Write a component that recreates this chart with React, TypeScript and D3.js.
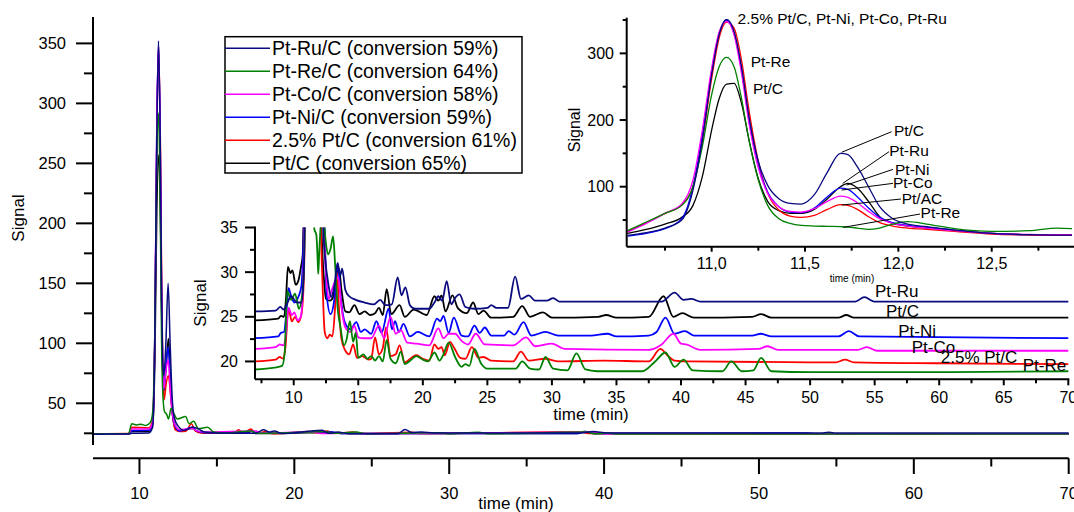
import React from 'react';
import * as d3 from 'd3';

type P = [number, number];

const FONT = "'Liberation Sans', Arial, Helvetica, sans-serif";

// ---------- series meta ----------
const legendLabels = [
  'Pt-Ru/C (conversion 59%)',
  'Pt-Re/C (conversion 64%)',
  'Pt-Co/C (conversion 58%)',
  'Pt-Ni/C (conversion 59%)',
  '2.5% Pt/C (conversion 61%)',
  'Pt/C (conversion 65%)',
];
const seriesColors = ['#0a0a80', '#008000', '#ff00ff', '#0000ff', '#ff0000', '#000000'];

// ---------- main chart (full chromatogram) ----------
const mainPtRu: P[] = [[7,24.3],[9.3,24.4],[9.5,25.0],[10.6,25.2],[10.85,30],[11.0,110],[11.12,270],[11.23,352],[11.34,270],[11.43,140],[11.5,85],[11.57,73],[11.7,98],[11.85,150],[11.98,100],[12.1,58],[12.25,38],[12.5,31],[12.9,27.5],[13.4,30],[13.75,29],[14.2,26],[15,25.3],[17.5,25.0],[18.0,28],[18.4,26],[18.7,27],[19.2,24.8],[21.8,27.5],[22.2,25],[22.8,26],[23.5,24.7],[26.7,24.7],[27.15,28.2],[27.6,25.6],[28.2,26],[29,25.2],[38.5,25.2],[39.3,26.5],[40.2,25.3],[54,25.2],[54.5,25.8],[55,25.2],[70,25.2]];
const mainPtRe: P[] = [[7,24.5],[9.3,24.8],[9.5,33],[9.8,32],[10.1,32.5],[10.4,31.5],[10.7,34],[10.85,42],[11.0,115],[11.12,255],[11.23,292],[11.34,215],[11.43,100],[11.52,55],[11.62,43],[11.75,41],[11.87,37],[12.05,46],[12.2,42],[12.45,37],[12.98,39],[13.2,33],[13.5,35],[13.8,29],[14.4,30],[14.8,26],[15.5,25.2],[17.2,27],[17.6,25],[20.9,26],[22,26.5],[22.5,25],[24,26],[24.6,24.7],[29.5,25.5],[30,24.6],[31.9,25.8],[32.5,24.6],[38.8,26],[39.5,24.6],[40.2,25.2],[40.8,24.5],[70,24.4]];
const mainPtCo: P[] = [[7,24.4],[9.3,24.6],[9.5,28.5],[10.6,28.5],[10.85,34],[11.0,118],[11.12,282],[11.23,348],[11.34,262],[11.43,130],[11.5,78],[11.57,62],[11.7,76],[11.85,86],[11.98,64],[12.1,44],[12.3,32],[12.6,28],[13.4,29],[13.7,27],[14.2,26],[17.5,27],[17.9,25.2],[21.2,26],[21.7,24.8],[24.1,25.5],[24.6,24.6],[39.4,26],[40,24.6],[70,24.4]];
const mainPtNi: P[] = [[7,24.4],[9.3,24.6],[9.5,27.2],[10.6,27.5],[10.85,33],[11.0,115],[11.12,280],[11.23,350],[11.34,268],[11.43,135],[11.5,80],[11.57,61],[11.7,80],[11.85,97],[11.98,70],[12.1,45],[12.3,31],[12.6,27],[13.4,30],[13.7,27],[14.2,25.5],[16.4,26],[16.8,25],[17.3,27],[17.6,25],[21.5,26],[22.4,26],[23,24.8],[38.3,24.8],[38.8,26.5],[39.4,24.8],[53,25.3],[53.6,24.6],[70,24.5]];
const mainPt25: P[] = [[7,24.6],[9.3,24.8],[9.5,30],[10.6,29.5],[10.85,36],[11.0,112],[11.12,272],[11.24,347],[11.36,258],[11.45,130],[11.52,72],[11.6,53],[11.72,66],[11.87,73],[12.0,58],[12.12,42],[12.3,28],[12.6,26.5],[13.0,26.8],[13.35,33],[13.6,27],[14.0,25.2],[16.1,25],[16.4,28],[16.7,25.2],[17.2,28.5],[17.5,25],[18.2,26.5],[18.6,24.6],[20.9,26.5],[21.5,25.2],[22.1,27],[22.6,25],[23.8,26],[24.3,24.8],[27.6,25.8],[28.2,24.8],[38.4,26.2],[39.1,24.8],[70,24.5]];
const mainPtC: P[] = [[7,24.5],[9.3,24.6],[9.5,26.5],[10.6,26.5],[10.85,32],[11.0,90],[11.12,210],[11.25,257],[11.37,190],[11.47,90],[11.58,60],[11.72,80],[11.87,104],[12.0,70],[12.12,42],[12.3,30],[12.6,27],[13.4,29],[13.7,27],[14.2,25],[17.0,25],[17.2,27],[17.5,24.8],[21,25.5],[22.3,26],[23,24.8],[38.3,24.8],[38.7,26.5],[39.3,24.8],[70,24.5]];

// ---------- lower inset (offset traces, 7-70 min) ----------
const detPtRu: P[] = [[7,25.6],[8.6,25.7],[8.97,26.1],[9.2,25.8],[9.4,26.2],[9.8,27.3],[10.25,26.6],[10.6,26.6],[10.78,30],[10.92,40],[12.1,40],[12.35,33],[12.7,28.5],[12.9,27.2],[13.15,28.5],[13.4,31],[13.6,29.6],[13.75,30.4],[14.0,28],[14.3,27.3],[14.8,26.9],[15.5,26.6],[16.2,26.4],[16.7,26.9],[17.1,26.3],[17.6,26.4],[18.05,29.4],[18.35,27.4],[18.65,28.3],[19.0,26.3],[19.4,25.9],[20.5,25.9],[20.9,26.6],[21.2,27.3],[21.5,26.8],[21.85,29.0],[22.2,26.4],[22.5,27.1],[22.85,27.5],[23.3,26.1],[24,25.9],[25,26.0],[25.3,26.3],[25.7,26.0],[26.6,26.0],[27.15,29.5],[27.6,27.0],[28.2,27.4],[28.7,26.8],[29.6,26.8],[30.1,27.1],[30.6,26.7],[38.5,26.7],[39.5,27.7],[40.2,26.9],[40.8,27.0],[41.5,26.7],[53.5,26.7],[54.2,27.2],[55,26.7],[70,26.7]];
const detPtRe: P[] = [[7,19.1],[8.5,19.3],[9.1,19.5],[9.3,21],[9.5,27.9],[9.8,26.9],[10.1,27.6],[10.4,25.9],[10.65,27.4],[10.8,31],[10.9,38],[11.45,38],[11.6,34.8],[11.75,34.2],[11.85,31.5],[11.9,29.8],[11.97,32],[12.1,35.5],[12.25,37],[12.45,33.8],[12.65,32],[12.85,32.6],[13.05,34],[13.2,31],[13.4,26],[13.6,24],[13.9,21.8],[14.1,22.5],[14.35,24.5],[14.6,22.2],[14.8,23.2],[15.0,20.4],[15.4,20.8],[15.7,20.3],[16.0,20.6],[16.3,20.1],[16.6,20.6],[16.9,20.0],[17.2,22.4],[17.5,20.3],[17.9,19.8],[18.3,21.1],[18.6,19.7],[19.1,20.2],[19.5,20.6],[20.0,20.2],[20.4,20.0],[20.9,21.0],[21.3,20.1],[21.6,20.8],[22.0,22.1],[22.5,20.5],[23.0,19.4],[23.3,19.7],[23.6,19.5],[24.0,21.4],[24.5,19.8],[25.0,19.2],[27.2,19.2],[27.7,20.0],[28.3,19.2],[29.0,19.1],[29.5,20.5],[30.1,19.2],[31.2,19.0],[31.9,20.9],[32.6,19.1],[33.5,18.9],[37,18.9],[38.0,20.0],[38.8,21.0],[39.5,19.4],[40.2,20.2],[40.9,19.0],[43.2,18.9],[43.9,20.0],[44.7,18.9],[45.6,19.0],[46.2,20.4],[47.0,18.9],[50,18.8],[60,18.8],[70,18.9]];
const detPtCo: P[] = [[7,21.4],[8.6,21.6],[8.9,21.9],[9.2,21.8],[9.35,22.5],[9.6,26.0],[9.85,25.2],[10.05,25.5],[10.3,24.6],[10.55,25.0],[10.75,30],[10.88,38],[12.2,38],[12.5,30],[12.7,27],[12.95,28],[13.2,29],[13.45,29.4],[13.7,26],[14.0,23.8],[14.4,23.3],[14.7,24.0],[15.0,22.7],[15.4,22.6],[16.0,22.6],[16.6,24.0],[17.0,22.6],[17.5,25.0],[17.9,23.1],[18.3,23.5],[18.8,22.1],[19.5,22.0],[20.5,21.8],[21.2,23.7],[21.6,22.6],[22.0,23.1],[22.5,23.1],[23.0,22.3],[23.5,21.9],[24.1,23.1],[24.8,21.9],[27.0,21.8],[28.0,22.7],[28.7,21.7],[30.0,22.0],[31.0,21.4],[37.5,21.3],[38.5,21.9],[39.4,23.1],[40.0,22.0],[40.4,21.9],[41.5,21.3],[46.0,21.4],[46.7,21.7],[47.5,21.3],[53.7,21.3],[54.4,21.6],[55.2,21.2],[70,21.2]];
const detPtNi: P[] = [[7,22.6],[8.8,22.8],[9.0,23.2],[9.25,23.3],[9.4,25],[9.6,28.2],[9.8,27.3],[10.05,26.6],[10.35,27.2],[10.6,28.5],[10.75,33],[10.85,38],[12.3,38],[12.55,27.5],[12.85,25.3],[13.15,27],[13.4,31],[13.65,27],[13.95,24.4],[14.4,23.6],[14.85,24.4],[15.2,23.3],[15.5,23.6],[16.0,23.1],[16.4,24.5],[16.8,23.2],[17.35,25.9],[17.6,23.6],[17.85,24.5],[18.15,23.3],[18.5,24.2],[19.0,22.8],[19.6,23.3],[20.5,22.8],[21.1,24.8],[21.35,24.5],[21.6,25.1],[22.0,23.2],[22.4,24.9],[23.0,22.9],[23.5,22.8],[24.0,24.0],[24.4,23.2],[24.8,23.8],[25.3,22.9],[26.3,22.9],[26.65,23.4],[27.1,23.0],[27.8,24.4],[28.4,22.9],[29.5,23.3],[30.5,22.9],[33,22.9],[34.3,23.1],[35,22.8],[37.5,22.9],[38.1,23.3],[38.8,24.9],[39.5,23.1],[40.3,23.4],[41,22.9],[45.5,22.9],[46.2,23.1],[47,22.8],[52.2,22.8],[53.0,23.4],[53.8,22.8],[70,22.6]];
const detPt25: P[] = [[7,20.0],[8.6,20.2],[8.9,20.5],[9.2,20.3],[9.35,21.5],[9.6,25.9],[9.85,24.5],[10.1,25.0],[10.35,24.4],[10.6,25.3],[10.8,30],[10.9,38],[12.0,38],[12.2,30],[12.4,23.3],[12.6,22.6],[12.8,23.0],[13.0,22.8],[13.2,26],[13.35,30],[13.5,26],[13.7,22.5],[14.0,21.2],[14.3,20.8],[14.6,21.9],[14.9,20.4],[15.3,20.6],[15.8,20.2],[16.0,20.3],[16.3,22.7],[16.6,20.8],[16.9,21.5],[17.15,23.8],[17.5,20.6],[17.9,20.8],[18.2,21.8],[18.6,19.9],[19.2,20.5],[19.5,20.7],[20.0,20.3],[20.5,20.1],[20.9,21.9],[21.2,21.4],[21.45,21.6],[21.7,20.7],[22.1,22.2],[22.4,21.6],[22.9,20.4],[23.3,20.3],[23.8,21.6],[24.3,20.4],[24.7,20.5],[25.3,20.1],[27.0,20.0],[27.6,21.1],[28.2,20.1],[29.5,20.3],[30.5,20.0],[34,20.1],[37.5,20.0],[38.4,21.4],[39.0,20.6],[39.5,20.1],[40.5,20.0],[52,19.9],[52.7,20.2],[53.4,19.9],[60,19.8],[70,19.7]];
const detPtC: P[] = [[7,24.6],[8.8,24.8],[9.0,25.1],[9.25,25.0],[9.4,27],[9.55,30.6],[9.75,29.9],[9.9,30.2],[10.15,28.6],[10.35,29.0],[10.55,30.5],[10.7,32],[10.8,38],[12.0,38],[12.3,30],[12.5,27.0],[12.8,26.8],[13.05,27.2],[13.3,29.5],[13.5,30.4],[13.7,28],[14.0,25.6],[14.3,25.5],[14.7,26.3],[15.1,25.3],[15.5,25.6],[15.9,25.2],[16.3,25.4],[16.6,26.0],[16.9,25.2],[17.2,28.1],[17.55,25.3],[18.2,26.3],[18.6,25.0],[19.3,25.8],[20.3,25.2],[20.9,27.3],[21.2,26.8],[21.45,27.4],[21.75,25.6],[22.3,27.4],[22.7,26.0],[23.4,25.4],[23.9,26.6],[24.3,25.3],[24.7,25.7],[25.3,24.9],[27.0,25.0],[27.7,26.2],[28.3,25.0],[29.3,25.5],[30,24.9],[33.6,25.0],[34.2,25.2],[35,24.9],[37.5,25.0],[38.65,27.3],[39.4,25.0],[40.1,25.4],[41,24.9],[45.5,25.0],[46.2,25.3],[47.0,24.9],[52.2,24.9],[52.8,25.2],[53.4,24.9],[70,24.9]];

// ---------- upper inset (zoom on 10.5-12.9 min) ----------
const zoomTimes = [10.55,10.65,10.75,10.84,10.9,10.95,11.0,11.04,11.08,11.12,11.16,11.2,11.25,11.3,11.36,11.42,11.48,11.55,11.62,11.69,11.73,11.78,11.84,11.9,11.97,12.05,12.15,12.3,12.5,12.7,12.85,12.93];
const zoomPtRu = [27,31,38,50,95,170,268,328,351,333,280,205,138,102,82,75,74,88,122,150,148,130,100,70,52,44,40,35,30,28,27.5,27.5];
const zoomPtRe = [34,47,60,72,100,160,238,280,294,280,232,170,110,72,52,45,42,41,40.5,40,39.5,38,36,38,44,47.5,44,37,33,34,38,37];
const zoomPtCo = [32,45,60,74,110,185,278,332,348,328,270,195,128,90,70,63,62,67,78,86,84,76,63,52,45,41,38,34,30,28.5,28,28];
const zoomPtNi = [26,30,37,52,100,178,272,330,350,330,275,200,132,92,70,62,61,68,85,98,96,85,68,54,46,42,39,35,30,28,28,28];
const zoomPt25 = [33,46,60,73,100,168,262,323,347,338,290,215,138,90,65,56,54,57,66,73,72,66,55,46,41,38,36,33,29,27.5,27,27];
const zoomPtC = [30,36,44,54,72,115,185,232,254,255,225,170,112,78,64,60,60,66,82,100,105,98,78,55,45,41,38,34,30,28,27.5,27.5];

// ---------- tick labels / annotations ----------
const mainXTicks = [10, 20, 30, 40, 50, 60, 70];
const mainYTicks = [50, 100, 150, 200, 250, 300, 350];
const detXTicks = [10, 15, 20, 25, 30, 35, 40, 45, 50, 55, 60, 65, 70];
const detYTicks = [20, 25, 30, 35];
const zoomXTicks = [11.0, 11.5, 12.0, 12.5];
const zoomXTickLabels = ['11,0', '11,5', '12,0', '12,5'];
const zoomYTicks = [100, 200, 300];

// labels at the right of the lower inset (data coords of that inset)
const detLabels: { text: string; t: number; v: number }[] = [
  { text: 'Pt-Ru', t: 55.03, v: 27.92 },
  { text: 'Pt/C', t: 55.88, v: 25.68 },
  { text: 'Pt-Ni', t: 56.83, v: 23.44 },
  { text: 'Pt-Co', t: 57.87, v: 21.65 },
  { text: '2.5% Pt/C', t: 60.12, v: 20.46 },
  { text: 'Pt-Re', t: 66.47, v: 19.6 },
];
// labels in the upper inset
const zoomTopLabels: { text: string; t: number; v: number }[] = [
  { text: '2.5% Pt/C, Pt-Ni, Pt-Co, Pt-Ru', t: 11.139, v: 352.6 },
  { text: 'Pt-Re', t: 11.209, v: 288.5 },
  { text: 'Pt/C', t: 11.221, v: 247.6 },
];
const zoomPointerLabels: { text: string; t: number; v: number; t0: number; v0: number; t1: number; v1: number }[] = [
  { text: 'Pt/C', t: 11.976, v: 184, t0: 11.964, v0: 182.5, t1: 11.696, v1: 151.6 },
  { text: 'Pt-Ru', t: 11.951, v: 154, t0: 11.95, v0: 152.5, t1: 11.702, v1: 105 },
  { text: 'Pt-Ni', t: 11.982, v: 126, t0: 11.971, v0: 126, t1: 11.723, v1: 102.5 },
  { text: 'Pt-Co', t: 11.971, v: 106, t0: 11.971, v0: 105, t1: 11.696, v1: 95 },
  { text: 'Pt/AC', t: 12.018, v: 82.6, t0: 12.014, v0: 81.5, t1: 11.696, v1: 72.5 },
  { text: 'Pt-Re', t: 12.119, v: 61, t0: 12.116, v0: 59, t1: 11.705, v1: 39 },
];

export default function App() {
  const W = 1074, H = 512;

  // main scales
  const xM = d3.scaleLinear().domain([7, 70]).range([93, 1068.7]);
  const yM = d3.scaleLinear().domain([0, 372]).range([463.3, 17]);
  const yMinMain = 15.25;
  const lineM = d3.line<P>().x(d => xM(d[0])).y(d => yM(d[1])).curve(d3.curveMonotoneX);

  // lower inset scales
  const xD = d3.scaleLinear().domain([7, 70]).range([255, 1068.3]);
  const yD = d3.scaleLinear().domain([18, 35]).range([379.3, 227.5]);
  const lineD = d3.line<P>().x(d => xD(d[0])).y(d => yD(d[1])).curve(d3.curveMonotoneX);

  // upper inset scales
  const xZ = d3.scaleLinear().domain([10.545, 12.93]).range([626.7, 1072]);
  const yZ = d3.scaleLinear().domain([10, 352]).range([246.7, 18.7]);
  const lineZ = d3.line<P>().x(d => xZ(d[0])).y(d => yZ(d[1])).curve(d3.curveMonotoneX);

  const mainSeries = [mainPtRu, mainPtRe, mainPtCo, mainPtNi, mainPt25, mainPtC];
  const detSeries = [detPtRu, detPtRe, detPtCo, detPtNi, detPt25, detPtC];
  const zoomSeries = [zoomPtRu, zoomPtRe, zoomPtCo, zoomPtNi, zoomPt25, zoomPtC].map(
    vals => d3.zip(zoomTimes, vals) as P[]
  );
  const drawOrder = [5, 4, 3, 2, 1, 0];

  const mainYMinor = d3.range(25, 372, 50);
  const mainXMinor = d3.range(15, 70, 10);
  const detYMinor = [22.5, 27.5, 32.5];
  const detXMinor = d3.range(7.5, 70, 5);
  const zoomYMinor = [50, 150, 250, 350];
  const zoomXMinor = [10.75, 11.25, 11.75, 12.25, 12.75];

  const axisStroke = { stroke: '#000', strokeWidth: 2 };

  return (
    <svg width={W} height={H} style={{ position: 'absolute', left: 0, top: 0, background: '#fff' }}
      fontFamily={FONT}>
      <defs>
        <clipPath id="clipMain"><rect x={xM(7)} y={yM(372)} width={xM(70) - xM(7) + 2} height={yM(yMinMain) - yM(372)} /></clipPath>
        <clipPath id="clipDet"><rect x={xD(7)} y={yD(35)} width={xD(70) - xD(7) + 1} height={yD(18) - yD(35)} /></clipPath>
        <clipPath id="clipZoom"><rect x={xZ(10.545)} y={yZ(352)} width={xZ(12.93) - xZ(10.545) + 2} height={yZ(10) - yZ(352)} /></clipPath>
      </defs>
      <rect x={0} y={0} width={W} height={H} fill="#fff" />

      {/* ===== MAIN CHART ===== */}
      <g clipPath="url(#clipMain)">
        {drawOrder.map(i => (
          <path key={i} d={lineM(mainSeries[i]) || ''} fill="none" stroke={seriesColors[i]} strokeWidth={1.5} strokeLinejoin="round" />
        ))}
      </g>
      {/* y axis */}
      <line x1={xM(7)} x2={xM(7)} y1={yM(372)} y2={yM(yMinMain)} {...axisStroke} />
      {mainYTicks.map(v => (
        <g key={'my' + v}>
          <line x1={xM(7) - 17} x2={xM(7)} y1={yM(v)} y2={yM(v)} {...axisStroke} />
          <text x={66} y={yM(v)} dy="0.35em" textAnchor="end" fontSize={16.5}>{v}</text>
        </g>
      ))}
      {mainYMinor.map(v => (
        <line key={'mym' + v} x1={xM(7) - 9} x2={xM(7)} y1={yM(v)} y2={yM(v)} {...axisStroke} />
      ))}
      <text transform={`translate(24,218) rotate(-90)`} textAnchor="middle" fontSize={17}>Signal</text>
      {/* x axis (separate line) */}
      <line x1={xM(7)} x2={xM(70)} y1={458.3} y2={458.3} {...axisStroke} />
      {mainXTicks.map(t => (
        <g key={'mx' + t}>
          <line x1={xM(t)} x2={xM(t)} y1={458.3} y2={474} {...axisStroke} />
          <text x={xM(t)} y={498.5} textAnchor="middle" fontSize={16.5}>{t}</text>
        </g>
      ))}
      {mainXMinor.map(t => (
        <line key={'mxm' + t} x1={xM(t)} x2={xM(t)} y1={458.3} y2={466.5} {...axisStroke} />
      ))}
      <text x={516} y={509} textAnchor="middle" fontSize={17}>time (min)</text>

      {/* legend */}
      <rect x={225} y={36.7} width={297} height={136.3} fill="#fff" stroke="#000" strokeWidth={1.5} />
      {legendLabels.map((lab, i) => {
        const cy = 48.3 + i * 23;
        return (
          <g key={'lg' + i}>
            <line x1={225} x2={270} y1={cy} y2={cy} stroke={seriesColors[i]} strokeWidth={1.5} />
            <text x={272} y={cy} dy="0.36em" fontSize={19.5}>{lab}</text>
          </g>
        );
      })}

      {/* ===== LOWER INSET ===== */}
      <g clipPath="url(#clipDet)">
        {drawOrder.map(i => (
          <path key={i} d={lineD(detSeries[i]) || ''} fill="none" stroke={seriesColors[i]} strokeWidth={1.8} strokeLinejoin="round" />
        ))}
      </g>
      <line x1={xD(7)} x2={xD(7)} y1={yD(35) - 1} y2={yD(18)} {...axisStroke} />
      <line x1={xD(7)} x2={xD(70) + 1} y1={yD(18)} y2={yD(18)} {...axisStroke} />
      {detYTicks.map(v => (
        <g key={'dy' + v}>
          <line x1={xD(7) - 10} x2={xD(7)} y1={yD(v)} y2={yD(v)} {...axisStroke} />
          <text x={238} y={yD(v)} dy="0.35em" textAnchor="end" fontSize={16}>{v}</text>
        </g>
      ))}
      {detYMinor.map(v => (
        <line key={'dym' + v} x1={xD(7) - 5} x2={xD(7)} y1={yD(v)} y2={yD(v)} {...axisStroke} />
      ))}
      {detXTicks.map(t => (
        <g key={'dx' + t}>
          <line x1={xD(t)} x2={xD(t)} y1={yD(18)} y2={yD(18) + 6} {...axisStroke} />
          <text x={xD(t)} y={402.5} textAnchor="middle" fontSize={16}>{t}</text>
        </g>
      ))}
      {detXMinor.map(t => (
        <line key={'dxm' + t} x1={xD(t)} x2={xD(t)} y1={yD(18)} y2={yD(18) + 4} {...axisStroke} />
      ))}
      <text transform={`translate(206,303) rotate(-90)`} textAnchor="middle" fontSize={17}>Signal</text>
      <text x={591} y={420} textAnchor="middle" fontSize={17}>time (min)</text>
      {detLabels.map(l => (
        <text key={'dl' + l.text} x={xD(l.t)} y={yD(l.v)} dy="0.36em" fontSize={17}>{l.text}</text>
      ))}

      {/* ===== UPPER INSET ===== */}
      <g clipPath="url(#clipZoom)">
        {drawOrder.map(i => (
          <path key={i} d={lineZ(zoomSeries[i]) || ''} fill="none" stroke={seriesColors[i]} strokeWidth={1.3} strokeLinejoin="round" />
        ))}
      </g>
      <line x1={xZ(10.545)} x2={xZ(10.545)} y1={yZ(352) - 1} y2={yZ(10)} {...axisStroke} />
      <line x1={xZ(10.545)} x2={xZ(12.93) + 2} y1={yZ(10)} y2={yZ(10)} {...axisStroke} />
      {zoomYTicks.map(v => (
        <g key={'zy' + v}>
          <line x1={xZ(10.545) - 7} x2={xZ(10.545)} y1={yZ(v)} y2={yZ(v)} {...axisStroke} />
          <text x={614} y={yZ(v)} dy="0.35em" textAnchor="end" fontSize={16}>{v}</text>
        </g>
      ))}
      {zoomYMinor.map(v => (
        <line key={'zym' + v} x1={xZ(10.545) - 4} x2={xZ(10.545)} y1={yZ(v)} y2={yZ(v)} {...axisStroke} />
      ))}
      {zoomXTicks.map((t, i) => (
        <g key={'zx' + t}>
          <line x1={xZ(t)} x2={xZ(t)} y1={yZ(10)} y2={yZ(10) + 5} {...axisStroke} />
          <text x={xZ(t)} y={269} textAnchor="middle" fontSize={16}>{zoomXTickLabels[i]}</text>
        </g>
      ))}
      {zoomXMinor.map(t => (
        <line key={'zxm' + t} x1={xZ(t)} x2={xZ(t)} y1={yZ(10)} y2={yZ(10) + 4} {...axisStroke} />
      ))}
      <text transform={`translate(580,130) rotate(-90)`} textAnchor="middle" fontSize={16}>Signal</text>
      <text x={852} y={282} textAnchor="middle" fontSize={10}>time (min)</text>
      {zoomTopLabels.map(l => (
        <text key={'zt' + l.text} x={xZ(l.t)} y={yZ(l.v)} dy="0.36em" fontSize={15.5}>{l.text}</text>
      ))}
      {zoomPointerLabels.map(l => (
        <g key={'zp' + l.text + l.t}>
          <line x1={xZ(l.t0)} y1={yZ(l.v0)} x2={xZ(l.t1)} y2={yZ(l.v1)} stroke="#000" strokeWidth={1} />
          <text x={xZ(l.t)} y={yZ(l.v)} dy="0.36em" fontSize={15.5}>{l.text}</text>
        </g>
      ))}
    </svg>
  );
}
